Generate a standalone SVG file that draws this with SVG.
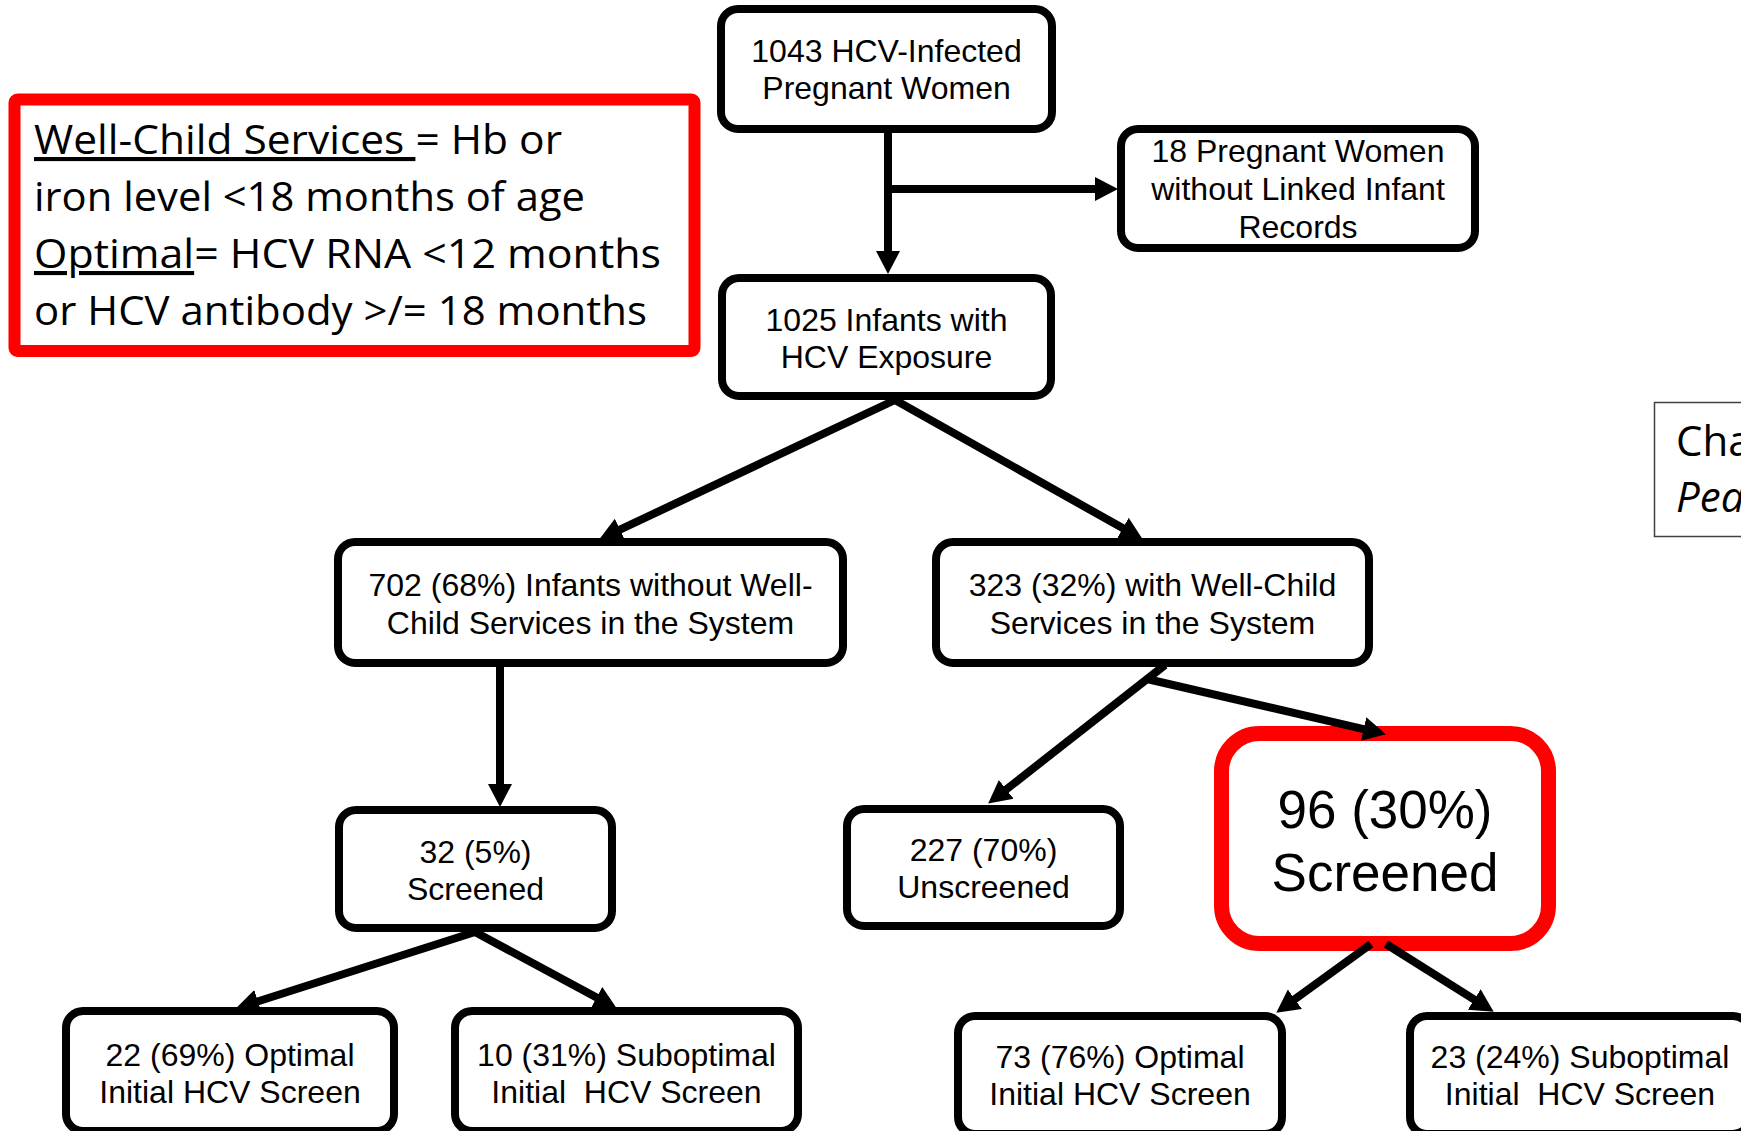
<svg xmlns="http://www.w3.org/2000/svg" width="1741" height="1131" viewBox="0 0 1741 1131">
<style>
.bx{fill:#fff;stroke:#000;stroke-width:8}
.t{font-family:"Liberation Sans",Arial,sans-serif;font-size:32px;fill:#000;text-anchor:middle}
.lg{font-family:"Open Sans","Liberation Sans",sans-serif;font-size:41px;fill:#000}
.u{text-decoration:underline}
.cn{fill:none;stroke:#000;stroke-width:8;marker-end:url(#ah)}
.sd{font-family:"Open Sans","Liberation Sans",sans-serif;font-size:42px;fill:#000}
</style>
<defs>
<marker id="ah" markerUnits="userSpaceOnUse" markerWidth="24" markerHeight="26" viewBox="0 0 24 26" refX="10" refY="13" orient="auto">
<path d="M0,1 L23,13 L0,25 Z" fill="#000"/>
</marker>
</defs>
<rect x="0" y="0" width="1741" height="1131" fill="#fff"/>

<g id="legend">
<rect x="14.5" y="99.5" width="680" height="251.5" rx="3" fill="#fff" stroke="#FF0000" stroke-width="12"/>
<text class="lg" x="34" y="154" textLength="528" lengthAdjust="spacingAndGlyphs"><tspan class="u">Well-Child Services </tspan>= Hb or</text>
<text class="lg" x="34" y="211" textLength="551" lengthAdjust="spacingAndGlyphs">iron level &lt;18 months of age</text>
<text class="lg" x="34" y="268" textLength="627" lengthAdjust="spacingAndGlyphs"><tspan class="u">Optimal</tspan>= HCV RNA &lt;12 months</text>
<text class="lg" x="34" y="325" textLength="613" lengthAdjust="spacingAndGlyphs">or HCV antibody &gt;/= 18 months</text>
</g>

<g id="n-women">
<rect class="bx" x="721" y="9" width="331" height="120" rx="17"/>
<text class="t" x="886.5" y="62">1043 HCV-Infected</text>
<text class="t" x="886.5" y="99">Pregnant Women</text>
</g>

<g id="n-unlinked">
<rect class="bx" x="1121" y="129" width="354" height="119" rx="17"/>
<text class="t" x="1298" y="162">18 Pregnant Women</text>
<text class="t" x="1298" y="200">without Linked Infant</text>
<text class="t" x="1298" y="238">Records</text>
</g>

<g id="n-infants">
<rect class="bx" x="722" y="278" width="329" height="118" rx="17"/>
<text class="t" x="886.5" y="331">1025 Infants with</text>
<text class="t" x="886.5" y="368">HCV Exposure</text>
</g>

<g id="n-without">
<rect class="bx" x="338" y="542" width="505" height="121" rx="17"/>
<text class="t" x="590.5" y="596">702 (68%) Infants without Well-</text>
<text class="t" x="590.5" y="634">Child Services in the System</text>
</g>

<g id="n-with">
<rect class="bx" x="936" y="542" width="433" height="121" rx="17"/>
<text class="t" x="1152.5" y="596">323 (32%) with Well-Child</text>
<text class="t" x="1152.5" y="634">Services in the System</text>
</g>

<g id="n-screened5">
<rect class="bx" x="339" y="810" width="273" height="118" rx="17"/>
<text class="t" x="475.5" y="863">32 (5%)</text>
<text class="t" x="475.5" y="900">Screened</text>
</g>

<g id="n-unscreened">
<rect class="bx" x="847" y="809" width="273" height="117" rx="17"/>
<text class="t" x="983.5" y="861">227 (70%)</text>
<text class="t" x="983.5" y="898">Unscreened</text>
</g>

<g id="n-screened30">
<rect x="1221.5" y="733.5" width="327" height="210" rx="38" fill="#fff" stroke="#FF0000" stroke-width="15"/>
<text class="t" x="1385" y="828" style="font-size:53px">96 (30%)</text>
<text class="t" x="1385" y="891" style="font-size:53px">Screened</text>
</g>

<g id="n-opt22">
<rect class="bx" x="66" y="1011" width="328" height="120" rx="17"/>
<text class="t" x="230" y="1066">22 (69%) Optimal</text>
<text class="t" x="230" y="1103">Initial HCV Screen</text>
</g>

<g id="n-sub10">
<rect class="bx" x="455" y="1011" width="343" height="120" rx="17"/>
<text class="t" x="626.5" y="1066">10 (31%) Suboptimal</text>
<text class="t" x="626.5" y="1103" style="white-space:pre">Initial  HCV Screen</text>
</g>

<g id="n-opt73">
<rect class="bx" x="958" y="1016" width="324" height="118" rx="17"/>
<text class="t" x="1120" y="1068">73 (76%) Optimal</text>
<text class="t" x="1120" y="1105">Initial HCV Screen</text>
</g>

<g id="n-sub23">
<rect class="bx" x="1410" y="1016" width="340" height="118" rx="17"/>
<text class="t" x="1580" y="1068">23 (24%) Suboptimal</text>
<text class="t" x="1580" y="1105" style="white-space:pre">Initial  HCV Screen</text>
</g>

<g id="n-side">
<rect x="1654.5" y="402.5" width="120" height="134" fill="#fff" stroke="#404040" stroke-width="1.5"/>
<text class="sd" x="1676" y="456">Cha</text>
<text class="sd" x="1676" y="512" style="font-style:italic">Pea</text>
</g>

<g id="connectors">
<path class="cn" d="M888,133 L888,261"/>
<path class="cn" d="M888,189 L1105,189"/>
<path class="cn" d="M895,400 L610.9,533.9"/>
<path class="cn" d="M895,400 L1131.5,533.1"/>
<path class="cn" d="M500,667 L500,794"/>
<path class="cn" d="M1165,665 L998.4,795.6"/>
<path class="cn" d="M1147,679 L1373.3,731.3"/>
<path class="cn" d="M475,932 L248.4,1004.4"/>
<path class="cn" d="M475,932 L605.4,1002.3"/>
<path class="cn" d="M1371,944 L1286.8,1005.1"/>
<path class="cn" d="M1386,944 L1482.7,1004.8"/>
</g>
</svg>
